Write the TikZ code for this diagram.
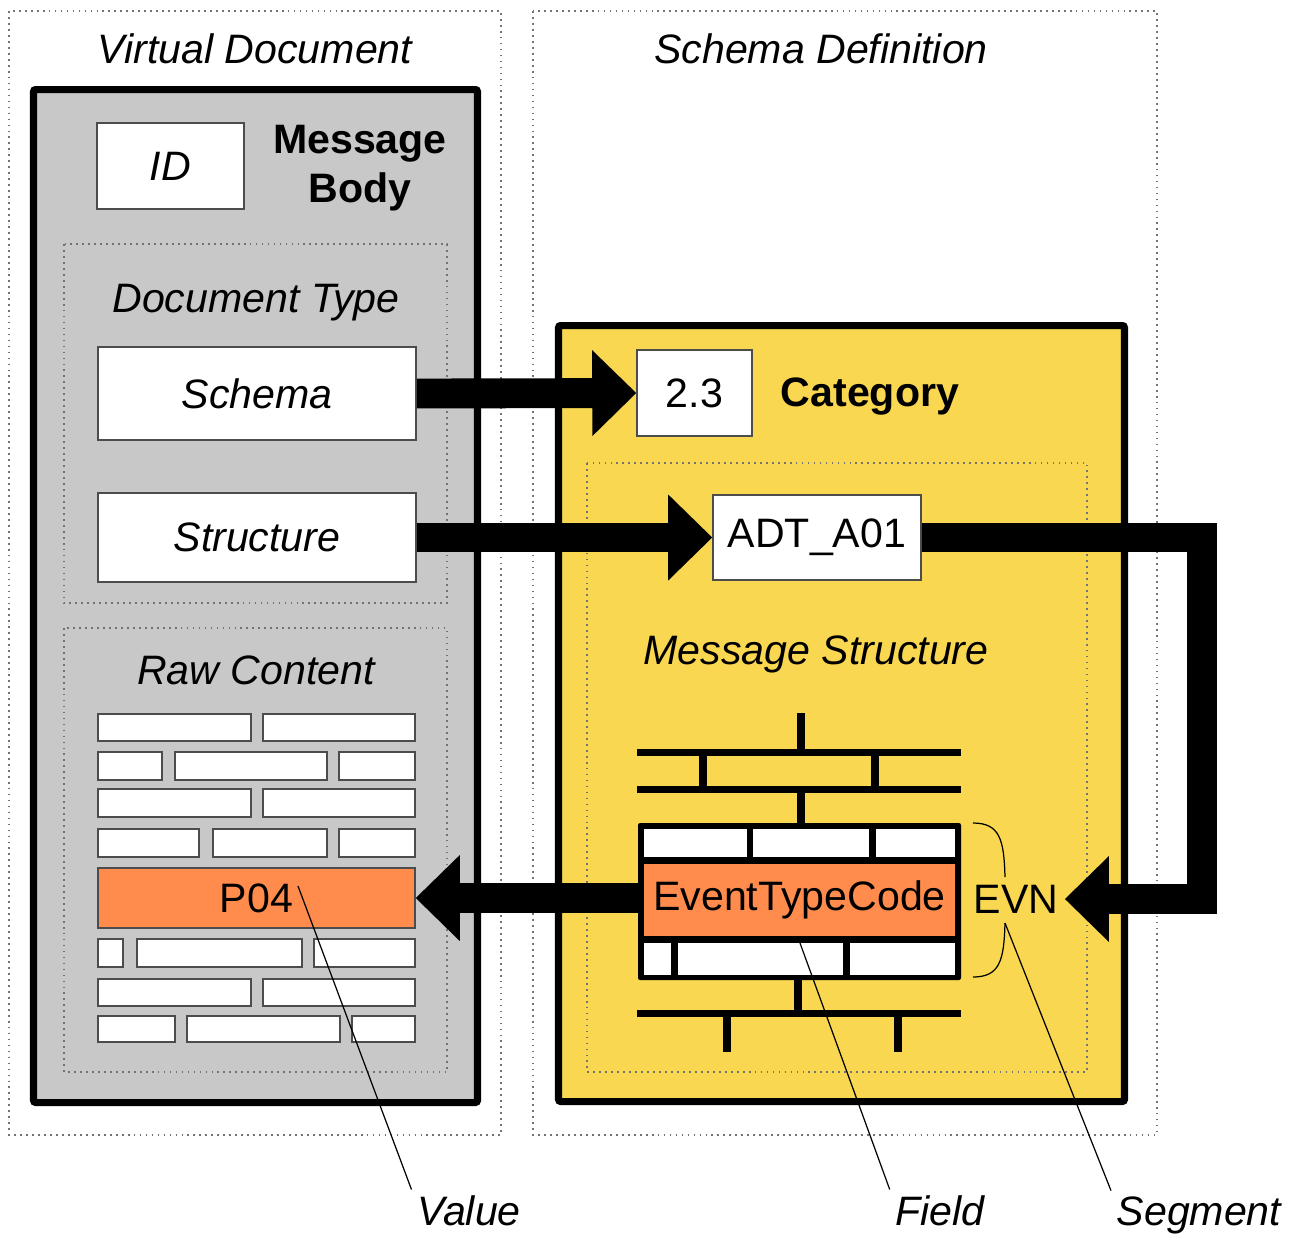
\documentclass[tikz,border=0pt]{standalone}
\usepackage{fontspec}
\setmainfont{Liberation Sans}
\usetikzlibrary{arrows.meta}
\definecolor{boxgray}{RGB}{200,200,200}
\definecolor{catyellow}{RGB}{249,215,80}
\definecolor{valorange}{RGB}{255,140,77}
\tikzset{
	dotframe/.style={draw=black!55, line width=0.5pt, dash pattern=on 0.5pt off 1.2pt},
	heavy/.style={draw=black, line width=2pt, rounded corners=0.6pt},
	cell/.style={draw=black!70, fill=white, line width=0.45pt},
	caption/.style={font=\itshape, inner sep=0.5mm},
	bigarrow/.style={line width=8.5pt, -{Triangle[length=4.4mm, width=8.6mm, line width=0pt]}},
	seg/.style={line width=2pt},
	leader/.style={line width=0.35pt}
}
\def\brick(#1,#2)(#3,#4){\draw[cell] (#1,#2) rectangle (#3,#4);}

\begin{document}
\begin{tikzpicture}[x=0.1mm, y=-0.1mm]
				\fontsize{11.7}{14}\selectfont
				\useasboundingbox (0,0) rectangle (1297,1233);
				%%%%% VIRTUAL DOCUMENT %%%%%
				
				\draw[dotframe] (9,11) rectangle (501,1135);
				\node[caption, anchor=base] (vdoc) at (255,63) {Virtual Document};
				\draw[heavy, fill=boxgray] (33.5,89.5) rectangle (477.5,1102.5);
				
				\node[cell, minimum width=14.7mm, minimum height=8.6mm, font=\itshape] (id) at (170.5,166) {ID};
				\node[font=\bfseries, align=center, inner sep=0pt] (body) at (360,168) {Message\\Body};
				
				\draw[dotframe] (64,244) rectangle (447,603);
				\node[caption, anchor=base] (doctype) at (256,312) {Document Type};
				\node[cell, minimum width=31.8mm, minimum height=9.3mm, font=\itshape] (schema) at (257,393.5) {Schema};
				\node[cell, minimum width=31.8mm, minimum height=8.9mm, font=\itshape] (struct) at (257,537.5) {Structure};
				
				\draw[dotframe] (64,628) rectangle (447,1072);
				\node[caption, anchor=base] (raw) at (256,684) {Raw Content};
				\foreach \ya/\yb/\cells in {714/741/{98/251,263/415}, 752/780/{98/162,175/327,339/415},
						789/817/{98/251,263/415}, 829/857/{98/199,213/327,339/415},
						939/967/{98/123,137/302,314/415}, 979/1006/{98/251,263/415},
						1016/1042/{98/175,187/340,352/415}}
					\foreach \xa/\xb in \cells
						\brick(\xa,\ya)(\xb,\yb);
				\node[cell, fill=valorange, minimum width=31.7mm, minimum height=6mm] (p04) at (256.5,898) {P04};
				
				%%%%% SCHEMA DEFINITION %%%%%
				
				\draw[dotframe] (533,11) rectangle (1157,1135);
				\node[caption, anchor=base] (schemadef) at (821,63) {Schema Definition};
				\draw[heavy, fill=catyellow] (558.5,325.5) rectangle (1124.5,1101.5);
				
				\node[cell, minimum width=11.5mm, minimum height=8.6mm] (ver) at (694.5,393) {2.3};
				\node[font=\bfseries, anchor=base, inner sep=0pt] (cat) at (870,406) {Category};
				
				\draw[dotframe] (587,463) rectangle (1087,1072);
				\node[cell, minimum width=20.8mm, minimum height=8.5mm] (adt) at (817,537.5) {ADT\_A01};
				\node[caption, anchor=base] (msgstruct) at (816,664) {Message Structure};
				
				% segment tree
				\draw[seg] (801,713) -- (801,752);
				\draw[seg] (637,752) -- (961,752);
				\draw[seg] (703,752) -- (703,789);
				\draw[seg] (875,752) -- (875,789);
				\draw[seg] (637,789) -- (961,789);
				\draw[seg] (801,789) -- (801,823);
				\fill[rounded corners=0.6pt] (638,823) rectangle (961,980);
				\fill[white] (644,829) rectangle (747,857);
				\fill[white] (753,829) rectangle (869,857);
				\fill[white] (876,829) rectangle (955,857);
				\node[fill=valorange, minimum width=31.1mm, minimum height=7.2mm, inner sep=0pt] (etc) at (799.5,900) {EventTypeCode};
				\fill[white] (644,943) rectangle (671,975);
				\fill[white] (678,943) rectangle (843,975);
				\fill[white] (850,943) rectangle (955,975);
				\draw[seg] (798,980) -- (798,1013);
				\draw[seg] (637,1013) -- (961,1013);
				\draw[seg] (727,1013) -- (727,1052);
				\draw[seg] (898,1013) -- (898,1052);
				
				\draw[leader] (973,823) .. controls (1000,823) and (1004,840) .. (1005,877);
				\draw[leader] (1005,923) .. controls (1004,960) and (1000,977) .. (973,977);
				\node[inner sep=0.6mm] (evn) at (1016,899) {EVN};
				
				%%%%% ARROWS %%%%%
				
				\draw[bigarrow] (schema.east) -- (ver.west);
				\draw[bigarrow] (struct.east) -- (adt.west);
				\coordinate (bend) at (1202,0);
				\draw[bigarrow, line join=miter] (adt.east) -| (bend |- evn.east) -- (evn.east);
				\draw[bigarrow] (p04.east -| etc.west) -- (p04.east);
				
				%%%%% LABELS %%%%%
				
				\coordinate (valtip) at (298,886);
				\coordinate (fieldtip) at (800,943);
				\coordinate (bracetip) at (1005,923);
				\node[caption, anchor=base] (value) at (469,1225) {Value};
				\node[caption, anchor=base] (field) at (940,1225) {Field};
				\node[caption, anchor=base] (segment) at (1199,1225) {Segment};
				\draw[leader] (valtip) -- (value.north west);
				\draw[leader] (fieldtip) -- (field.north west);
				\draw[leader] (bracetip) -- (segment.north west);
\end{tikzpicture}
\end{document}
